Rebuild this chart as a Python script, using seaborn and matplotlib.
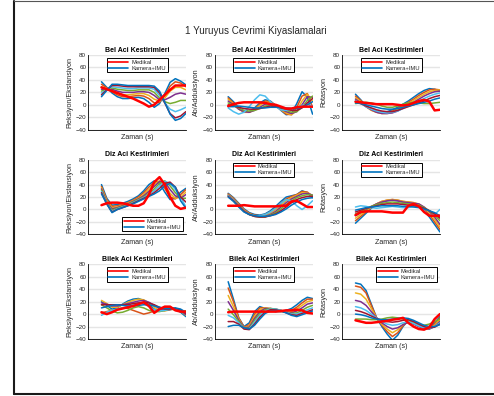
import matplotlib
matplotlib.use("Agg")
import matplotlib.pyplot as plt
from matplotlib.lines import Line2D
import pandas as pd
import seaborn as sns

# ---------------------------------------------------------------------------
# Data: one gait cycle, joint angle estimates (degrees) over time (s)
# ---------------------------------------------------------------------------
t = [0.0, 0.075, 0.15, 0.225, 0.3, 0.375, 0.45, 0.525, 0.6, 0.675,
     0.75, 0.825, 0.9, 0.975, 1.05, 1.125, 1.2]

joint_titles = ["Bel Aci Kestirimleri", "Diz Aci Kestirimleri", "Bilek Aci Kestirimleri"]
axis_names = ["Fleksiyon/Ekstansiyon", "Ab/Adduksiyon", "Rotasyon"]
legend_labels = ["Medikal", "Kamera+IMU"]

# Bel (waist)
bel_flex_medikal = [28, 25, 22, 19, 16, 13, 10, 6, 2, -3, 0, 8, 16, 24, 31, 31, 31]
bel_flex_kamera = [
    [37, 28, 19, 13, 10, 10, 11, 12, 10, 4, -4, 2, 18, 36, 42, 38, 32],
    [33, 27, 21, 16, 13, 13, 14, 15, 14, 10, 3, 4, 15, 30, 37, 35, 29],
    [29, 26, 23, 19, 16, 16, 17, 18, 18, 15, 9, 6, 11, 22, 28, 28, 24],
    [25, 25, 25, 22, 20, 20, 20, 21, 21, 20, 15, 8, 8, 12, 17, 19, 17],
    [22, 25, 27, 25, 24, 23, 23, 24, 24, 24, 20, 11, 5, 2, 4, 7, 7],
    [19, 24, 29, 28, 27, 26, 26, 27, 27, 27, 25, 15, 3, -7, -11, -8, -4],
    [16, 24, 31, 31, 30, 29, 29, 29, 29, 29, 28, 19, 3, -14, -21, -18, -11],
    [13, 23, 33, 33, 32, 31, 31, 31, 31, 31, 30, 22, 4, -15, -25, -22, -14],
]
bel_abd_medikal = [-2, 1, 3, 4, 4, 4, 4, 3, 1, 0, -3, -6, -6, -4, -3, -3, -3]
bel_abd_kamera = [
    [13, 5, -5, -12, -11, -5, 3, 8, 6, -1, -9, -16, -14, 2, 21, 12, -15],
    [11, 3, -6, -12, -12, -7, 1, 6, 5, -1, -8, -15, -16, -4, 14, 18, -4],
    [9, 1, -7, -12, -12, -8, -1, 4, 4, -2, -8, -13, -16, -9, 6, 17, 6],
    [6, 0, -7, -11, -12, -9, -4, 1, 2, -2, -7, -11, -14, -11, 0, 13, 12],
    [3, -1, -5, -9, -10, -9, -6, -2, 0, -2, -6, -9, -12, -11, -4, 7, 14],
    [-5, -11, -15, -12, -3, 8, 16, 14, 5, -3, -8, -9, -7, -4, -1, 1, -2],
    [0, -2, -4, -6, -7, -7, -6, -4, -2, -3, -5, -7, -9, -9, -5, 3, 10],
    [-3, -3, -2, -3, -4, -5, -5, -5, -4, -4, -4, -5, -6, -6, -4, 0, 5],
]
bel_rot_medikal = [5, 4, 3, 2, 1, 1, 1, 1, 0, -1, 0, 3, 6, 8, 5, -9, -8]
bel_rot_kamera = [
    [17, 8, -2, -8, -11, -12, -11, -8, -4, 1, 6, 12, 18, 23, 26, 25, 22],
    [14, 7, -2, -8, -12, -13, -13, -10, -6, -1, 4, 9, 15, 20, 24, 25, 24],
    [11, 5, -3, -9, -12, -14, -14, -12, -8, -3, 2, 7, 12, 17, 21, 23, 24],
    [9, 3, -3, -8, -12, -14, -14, -13, -10, -5, 0, 4, 9, 14, 18, 21, 22],
    [2, 3, 4, 3, 1, -2, -4, -4, -2, 1, 3, 4, 3, 2, 2, 3, 4],
    [7, 2, -3, -7, -10, -12, -13, -12, -10, -6, -2, 2, 6, 10, 14, 17, 19],
    [5, 2, -2, -5, -8, -10, -11, -11, -9, -6, -3, 0, 3, 6, 10, 13, 15],
    [3, 2, 0, -2, -4, -6, -7, -7, -6, -4, -2, 0, 2, 4, 6, 9, 11],
]

# Diz (knee)
diz_flex_medikal = [7, 10, 11, 11, 10, 8, 6, 6, 10, 24, 44, 52, 40, 20, 6, 1, 3]
diz_flex_kamera = [
    [40, 18, 7, 8, 10, 13, 17, 22, 30, 40, 46, 42, 28, 16, 18, 28, 34],
    [37, 16, 5, 6, 8, 11, 15, 20, 27, 36, 44, 45, 34, 20, 17, 24, 32],
    [35, 14, 3, 4, 7, 10, 14, 18, 24, 32, 41, 46, 40, 26, 18, 20, 28],
    [33, 12, 1, 3, 6, 9, 13, 17, 22, 29, 37, 45, 44, 32, 22, 18, 24],
    [31, 11, -1, 2, 5, 8, 12, 16, 20, 26, 33, 42, 46, 38, 27, 18, 18],
    [29, 10, -3, 1, 4, 7, 11, 15, 19, 24, 30, 38, 45, 42, 32, 20, 4],
    [27, 9, -4, 0, 3, 6, 10, 14, 18, 22, 27, 34, 42, 44, 36, 20, 12],
    [25, 9, -5, 0, 3, 6, 9, 13, 17, 21, 25, 30, 38, 42, 36, 14, 2],
]
diz_abd_medikal = [6, 6, 6, 7, 6, 5, 5, 5, 5, 5, 6, 6, 13, 14, 9, 4, 4]
diz_abd_kamera = [
    [26, 19, 10, 1, -5, -8, -9, -7, -2, 5, 13, 20, 22, 24, 30, 27, 19],
    [25, 18, 9, 0, -6, -9, -10, -8, -4, 2, 10, 17, 21, 24, 29, 28, 21],
    [24, 17, 8, -1, -7, -10, -11, -9, -6, 0, 7, 14, 19, 23, 27, 27, 22],
    [23, 16, 7, -2, -8, -11, -12, -11, -8, -3, 4, 11, 17, 21, 25, 26, 23],
    [22, 15, 6, -3, -8, -11, -12, -12, -9, -5, 1, 8, 14, 19, 22, 24, 23],
    [22, 15, 5, -3, -8, -10, -10, -8, -4, 2, 10, 16, 14, 6, 0, 6, 14],
    [21, 14, 5, -3, -8, -11, -12, -12, -10, -7, -2, 4, 11, 16, 19, 21, 21],
    [20, 13, 4, -4, -8, -10, -11, -11, -10, -8, -4, 1, 7, 12, 16, 18, 19],
]
diz_rot_medikal = [-9, -4, -3, -3, -3, -3, -4, -5, -5, -5, 6, 9, 5, -4, -10, -10, -10]
diz_rot_kamera = [
    [-22, -14, -6, 2, 8, 12, 14, 15, 14, 12, 11, 10, 6, -2, -12, -24, -36],
    [-18, -11, -4, 3, 9, 13, 15, 16, 15, 13, 12, 11, 8, 1, -8, -20, -32],
    [-14, -8, -2, 4, 9, 13, 15, 16, 15, 13, 12, 11, 9, 3, -5, -16, -28],
    [-10, -5, 0, 5, 9, 12, 14, 15, 14, 12, 11, 10, 9, 4, -3, -12, -24],
    [-7, -3, 1, 5, 8, 10, 11, 12, 11, 10, 9, 8, 7, 3, -2, -9, -18],
    [4, 6, 5, 3, 2, 3, 4, 5, 4, 3, 3, 5, 5, -2, -10, -8, 0],
    [-4, -1, 2, 4, 6, 8, 9, 9, 9, 8, 7, 6, 5, 2, -2, -7, -14],
    [-1, 1, 3, 4, 5, 6, 6, 6, 6, 5, 5, 4, 3, 1, -2, -5, -10],
]

# Bilek (ankle)
bilek_flex_medikal = [3, 0, 3, 7, 9, 11, 13, 16, 19, 13, 2, 8, 12, 12, 6, 4, 4]
bilek_flex_kamera = [
    [20, 14, 8, 10, 16, 21, 24, 25, 22, 15, 8, 5, 6, 9, 8, 3, -4],
    [2, 4, 6, 8, 10, 9, 6, 3, 0, 2, 5, 8, 10, 11, 9, 6, 4],
    [22, 17, 11, 11, 15, 19, 22, 24, 23, 18, 11, 6, 5, 7, 9, 5, -2],
    [18, 16, 13, 13, 15, 17, 19, 21, 22, 19, 14, 9, 6, 7, 9, 6, -1],
    [15, 10, 5, 2, 3, 6, 10, 12, 10, 6, 4, 4, 6, 8, 7, 5, 5],
    [-2, 3, 6, 8, 10, 12, 15, 18, 17, 12, 7, 5, 6, 8, 9, 7, 2],
    [15, 15, 15, 15, 15, 15, 17, 18, 19, 18, 15, 11, 8, 8, 9, 7, 1],
    [10, 12, 14, 15, 14, 13, 13, 14, 15, 15, 13, 11, 9, 9, 10, 8, 3],
]
bilek_abd_medikal = [3, 4, 4, 4, 4, 4, 4, 4, 4, 4, 5, 6, 6, 7, 6, 2, 1]
bilek_abd_kamera = [
    [52, 24, -6, -20, -14, 4, 12, 9, 6, 4, 4, 6, 9, 15, 22, 27, 25],
    [42, 20, -6, -21, -17, 0, 10, 10, 8, 5, 4, 4, 6, 11, 18, 24, 24],
    [30, 12, -8, -22, -19, -4, 7, 10, 9, 7, 5, 3, 4, 8, 14, 20, 22],
    [20, 6, -10, -22, -21, -7, 4, 9, 9, 8, 6, 3, 2, 5, 10, 16, 18],
    [8, -1, -12, -23, -23, -10, 1, 7, 9, 8, 6, 3, 1, 2, 6, 11, 14],
    [-2, -6, -14, -23, -24, -13, -2, 5, 8, 8, 6, 3, 0, 0, 3, 7, 10],
    [-12, -12, -16, -24, -25, -16, -5, 3, 7, 7, 5, 2, -1, -2, 1, 4, 7],
    [-20, -18, -18, -22, -24, -18, -8, 1, 5, 6, 5, 2, -2, -4, -1, 2, 5],
]
bilek_rot_medikal = [-10, -12, -14, -14, -13, -12, -11, -9, -8, -6, -14, -20, -24, -25, -21, -8, 0]
bilek_rot_kamera = [
    [50, 48, 38, 16, -6, -20, -32, -42, -34, -20, -10, -12, -18, -22, -22, -14, -4],
    [45, 43, 34, 14, -6, -18, -28, -36, -30, -19, -11, -13, -19, -23, -23, -16, -6],
    [34, 32, 24, 9, -6, -16, -24, -30, -25, -17, -11, -14, -20, -23, -24, -18, -9],
    [22, 20, 14, 4, -6, -14, -20, -24, -22, -17, -13, -16, -20, -23, -24, -20, -12],
    [-8, -8, -8, -9, -9, -8, -6, -5, -6, -8, -12, -15, -17, -18, -16, -12, -8],
    [12, 10, 6, 0, -6, -12, -16, -18, -17, -14, -12, -15, -19, -22, -23, -20, -14],
    [6, 4, 1, -3, -7, -10, -12, -13, -12, -10, -9, -12, -16, -20, -22, -21, -16],
    [0, -1, -3, -6, -8, -9, -9, -8, -7, -6, -7, -10, -14, -18, -20, -20, -17],
]

# ---------------------------------------------------------------------------
# Styling
# ---------------------------------------------------------------------------
sns.set_theme(style="white")
plt.rcParams["font.family"] = ["Liberation Sans", "DejaVu Sans"]

line_colors = ["#0072BD", "#D95319", "#EDB120", "#7E2F8E",
               "#77AC30", "#4DBEEE", "#A2142F", "#0072BD"]
text_gray = "#262626"

panels = [
    (bel_flex_medikal, bel_flex_kamera, "upper center"),
    (bel_abd_medikal, bel_abd_kamera, "upper center"),
    (bel_rot_medikal, bel_rot_kamera, "upper center"),
    (diz_flex_medikal, diz_flex_kamera, "lower right"),
    (diz_abd_medikal, diz_abd_kamera, "upper center"),
    (diz_rot_medikal, diz_rot_kamera, "upper center"),
    (bilek_flex_medikal, bilek_flex_kamera, "upper center"),
    (bilek_abd_medikal, bilek_abd_kamera, "upper center"),
    (bilek_rot_medikal, bilek_rot_kamera, "upper right"),
]

W, H = 494, 396
fig = plt.figure(figsize=(W / 100, H / 100), dpi=100)

col_left = [88.3, 215.0, 342.3]
row_top = [55.0, 159.7, 264.3]
ax_w, ax_h = 97.6, 74.7

for i, (medikal, kamera, loc) in enumerate(panels):
    r, c = divmod(i, 3)
    ax = fig.add_axes([col_left[c] / W, 1 - (row_top[r] + ax_h) / H, ax_w / W, ax_h / H])

    ids = [f"k{k}" for k in range(len(kamera))]
    df = pd.DataFrame(
        [(ti, v, ids[k]) for k, curve in enumerate(kamera) for ti, v in zip(t, curve)],
        columns=["t", "deg", "id"],
    )
    sns.lineplot(data=df, x="t", y="deg", hue="id", palette=line_colors[:len(kamera)],
                 legend=False, ax=ax, linewidth=1.1, estimator=None, sort=False)
    sns.lineplot(x=t, y=medikal, color="red", linewidth=1.8, ax=ax, estimator=None)

    ax.set_xlim(-0.1873, 1.2)
    ax.set_ylim(-40, 80)
    ax.set_yticks(range(-40, 81, 20))
    ax.set_xticks([])
    ax.yaxis.grid(True, color="#e5e5e5", linewidth=1.0)
    ax.set_axisbelow(True)
    for side in ("top", "right"):
        ax.spines[side].set_visible(False)
    for side in ("left", "bottom"):
        ax.spines[side].set_color("black")
        ax.spines[side].set_linewidth(0.6)
    ax.tick_params(axis="y", direction="in", length=2, width=0.5, pad=1.5,
                   labelsize=4.5, labelcolor=text_gray, color="black")

    ax.set_title(joint_titles[r], fontsize=5.0, fontweight="bold", color="black", pad=2.5)
    ax.set_xlabel("Zaman (s)", fontsize=5.1, color=text_gray, labelpad=3)
    ax.set_ylabel(axis_names[c], fontsize=5.1, color=text_gray, labelpad=1.5)

    handles = [Line2D([], [], color="red", linewidth=1.2),
               Line2D([], [], color=line_colors[0], linewidth=1.2)]
    leg = ax.legend(handles, legend_labels, loc=loc, fontsize=4.2, frameon=True,
                    fancybox=False, edgecolor="black", framealpha=1,
                    handlelength=3.4, handletextpad=0.5, borderpad=0.3,
                    labelspacing=0.15, borderaxespad=0.5)
    leg.get_frame().set_linewidth(0.7)

fig.text(256 / W, 1 - 31 / H, "1 Yuruyus Cevrimi Kiyaslamalari",
         ha="center", va="center", fontsize=7.1, color=text_gray)

# page frame around the figure
x0 = 13.7 / W
y_top = 1 - 0.8 / H
y_bot = 1 - 393.5 / H
fig.add_artist(Line2D([x0, x0], [y_top, y_bot], transform=fig.transFigure,
                      color="#1a1a1a", linewidth=1.5))
fig.add_artist(Line2D([x0, 1], [y_top, y_top], transform=fig.transFigure,
                      color="#555555", linewidth=0.8))
fig.add_artist(Line2D([x0, 1], [y_bot, y_bot], transform=fig.transFigure,
                      color="#1a1a1a", linewidth=1.5))

fig.savefig("out.png", dpi=100, facecolor="white")
